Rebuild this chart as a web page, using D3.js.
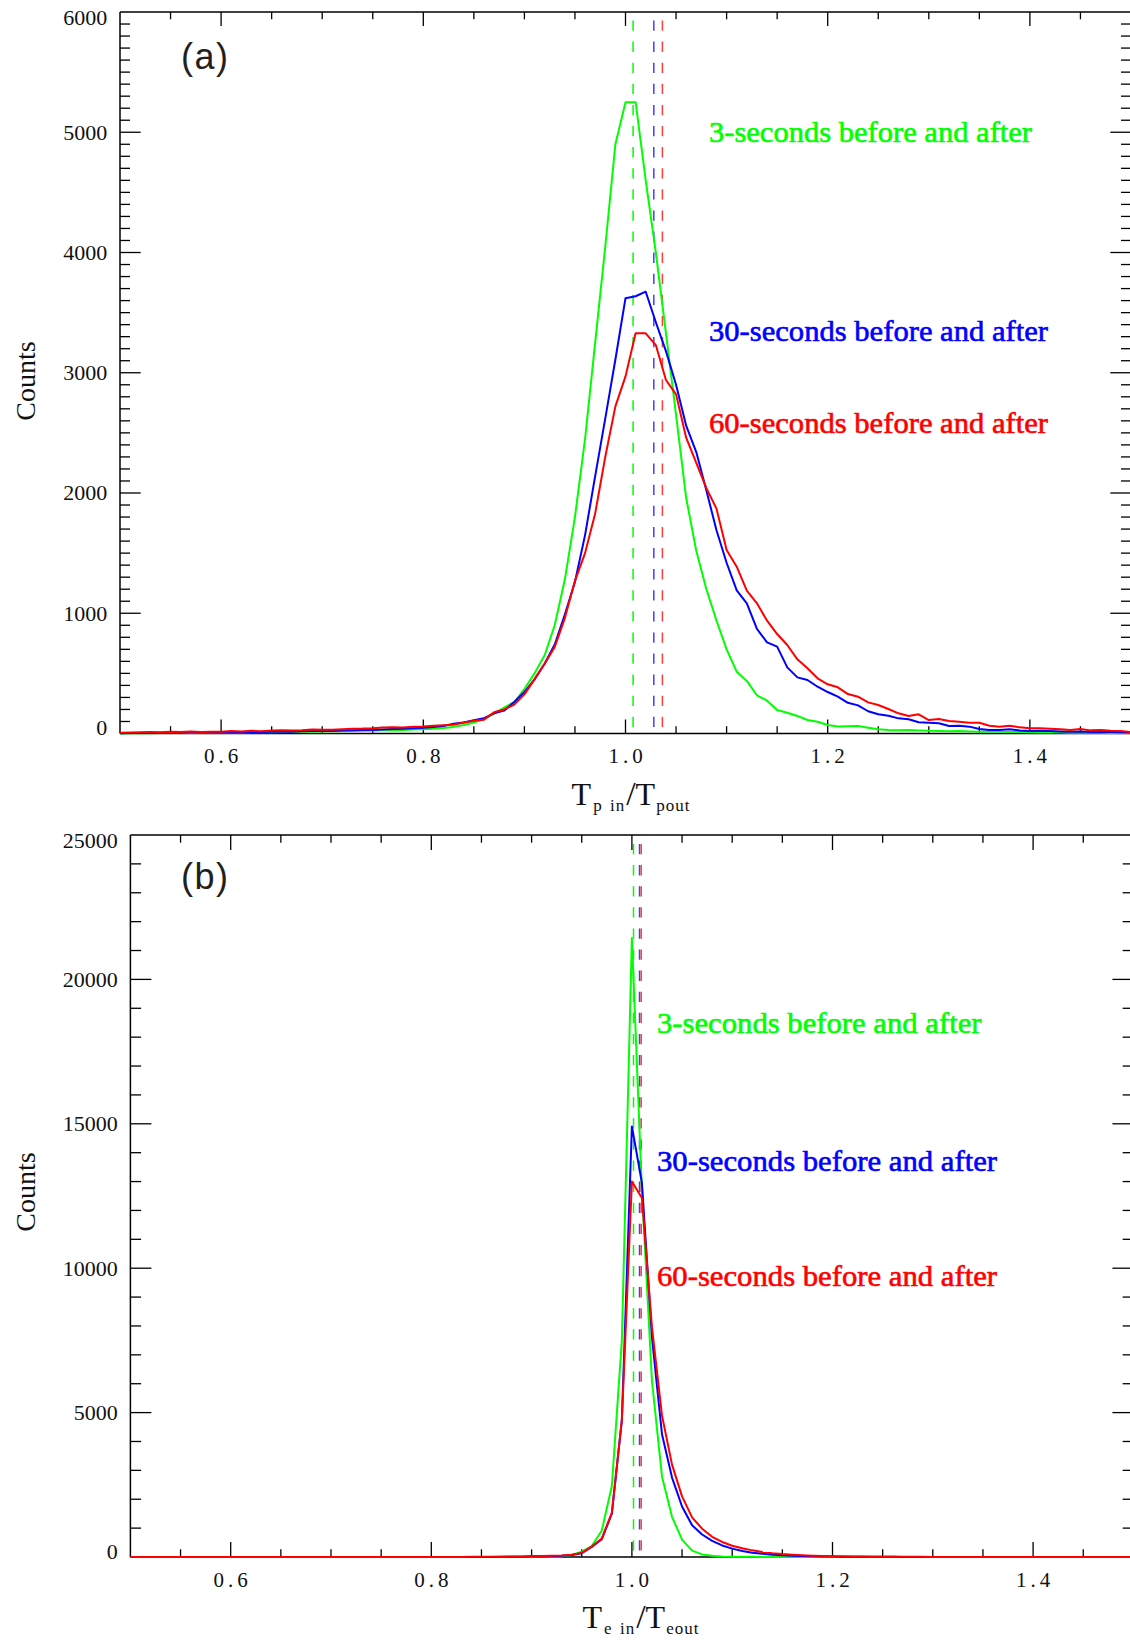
<!DOCTYPE html>
<html><head><meta charset="utf-8">
<script src="https://cdn.jsdelivr.net/npm/d3@7"></script>
<style>body{margin:0;background:#fff}svg{display:block}</style>
</head><body><svg id="c" width="1130" height="1640"></svg>
<script>
// ---- DATA ----
const bins = [0.50,0.51,0.52,0.53,0.54,0.55,0.56,0.57,0.58,0.59,0.60,0.61,0.62,0.63,0.64,0.65,0.66,0.67,0.68,0.69,
0.70,0.71,0.72,0.73,0.74,0.75,0.76,0.77,0.78,0.79,0.80,0.81,0.82,0.83,0.84,0.85,0.86,0.87,0.88,0.89,
0.90,0.91,0.92,0.93,0.94,0.95,0.96,0.97,0.98,0.99,1.00,1.01,1.02,1.03,1.04,1.05,1.06,1.07,1.08,1.09,
1.10,1.11,1.12,1.13,1.14,1.15,1.16,1.17,1.18,1.19,1.20,1.21,1.22,1.23,1.24,1.25,1.26,1.27,1.28,1.29,
1.30,1.31,1.32,1.33,1.34,1.35,1.36,1.37,1.38,1.39,1.40,1.41,1.42,1.43,1.44,1.45,1.46,1.47,1.48,1.49,1.50];

// panel (a): Tp_in / Tp_out
const tpGreen = [0,2,3,3,5,4,6,5,7,6,8,9,8,10,11,10,12,13,14,15,
17,18,19,21,22,24,26,28,30,33,36,40,46,55,70,92,120,165,215,262,
370,500,650,900,1280,1800,2450,3250,4050,4900,5250,5250,4600,4000,3330,2650,1960,1520,1200,940,
700,514,437,318,273,195,173,146,112,98,71,58,60,62,48,35,30,28,30,26,
22,20,18,20,17,15,16,14,12,13,10,9,10,8,7,8,6,6,5,5,4];
const tpBlue = [3,4,5,4,6,7,6,8,9,8,10,12,11,13,12,15,16,15,18,20,
22,21,25,28,30,29,34,38,40,44,48,55,62,82,92,110,128,168,190,262,
345,450,580,740,990,1260,1650,2140,2620,3110,3620,3636,3674,3420,3180,2900,2560,2340,2020,1690,
1420,1190,1083,870,758,722,550,467,445,389,345,306,255,234,185,160,148,126,118,93,
90,85,62,65,57,37,30,29,36,25,20,22,20,17,15,16,12,13,12,10,8];
const tpRed = [6,8,11,12,10,14,12,16,13,15,14,20,17,22,18,24,26,24,27,34,
31,32,36,40,41,44,49,52,50,57,59,65,68,72,92,106,115,176,200,240,
325,450,580,720,960,1270,1500,1830,2300,2720,2970,3328,3328,3230,2940,2820,2460,2250,2040,1870,
1526,1387,1188,1083,938,827,736,617,542,459,409,384,328,306,259,237,204,168,146,160,
112,121,104,98,90,90,65,57,65,51,43,43,40,35,29,37,26,29,23,20,12];

// panel (b): Te_in / Te_out
const teGreen = [0,0,0,0,0,0,0,0,0,0,0,0,0,0,0,0,0,0,0,0,
0,0,0,0,0,0,0,0,0,0,0,0,0,0,0,0,0,0,0,2,
3,5,10,25,70,184,380,920,2460,7500,21430,12700,6100,2790,1390,600,220,90,40,20,
12,8,5,4,3,2,2,1,1,1,1,1,0,0,0,0,0,0,0,0,
0,0,0,0,0,0,0,0,0,0,0,0,0,0,0,0,0,0,0,0,0];
const teBlue = [0,0,0,0,0,0,0,0,0,0,0,0,0,0,0,0,0,0,0,0,
0,0,0,0,0,0,0,0,0,0,0,1,1,2,2,3,4,6,8,11,
15,20,28,40,70,130,350,620,1500,4750,14910,12950,7600,4250,2750,1750,1100,780,560,400,
290,210,150,110,80,60,45,35,27,20,16,12,10,8,7,6,5,4,4,3,
3,3,2,2,2,2,2,1,1,1,1,1,1,1,1,0,0,0,0,0,0];
const teRed = [0,0,0,0,0,0,0,0,0,0,0,0,0,0,0,0,0,0,0,0,
0,0,0,0,0,0,0,1,1,1,2,2,3,4,5,6,8,10,14,18,
32,38,45,55,80,140,360,640,1530,4750,13005,12430,7950,4900,3200,2100,1370,980,700,520,
390,300,230,175,130,100,78,60,46,36,28,22,18,15,12,10,8,7,6,5,
4,4,3,3,3,2,2,2,2,2,1,1,1,1,1,1,1,1,1,1,1];

// dashed reference values (green, blue, red)
const refTp = [1.0075, 1.028, 1.0365];
const refTe = [1.0016, 1.0076, 1.0093];

const seriesNames = ["3-seconds before and after","30-seconds before and after","60-seconds before and after"];
const seriesColors = ["#00ff00","#0000ff","#ff0000"];
const xMajor = [0.6,0.8,1.0,1.2,1.4];
const xMajorLabels = ["0.6","0.8","1.0","1.2","1.4"];
const yTicksA = [0,1000,2000,3000,4000,5000,6000];
const yLabelsA = ["0","1000","2000","3000","4000","5000","6000"];
const yTicksB = [0,5000,10000,15000,20000,25000];
const yLabelsB = ["0","5000","10000","15000","20000","25000"];

// ---- DRAW ----
const svg = d3.select("#c");
const serif = "'Liberation Serif','Times New Roman',serif";

function panel(cfg){
  const g = svg.append("g");
  const x = d3.scaleLinear().domain([0.5,1.5]).range([cfg.x0,cfg.x1]);
  const y = d3.scaleLinear().domain(cfg.yDomain).range([cfg.y0,cfg.y1]);
  const [L,R,T,B] = [cfg.x0,cfg.x1,cfg.y1,cfg.y0];

  // dashed reference lines
  cfg.refs.forEach((r,i)=>{
    g.append("line").attr("x1",x(r)).attr("x2",x(r))
      .attr("y1",T+cfg.dashStart).attr("y2",B)
      .attr("stroke",seriesColors[i]).attr("stroke-width",1.5)
      .attr("stroke-dasharray","10.3,10.8").attr("opacity",i===0?1:0.75);
  });

  // axes frame
  const ax = g.append("g").attr("stroke","#000").attr("stroke-width",1.5);
  ax.append("line").attr("x1",L).attr("x2",L).attr("y1",T).attr("y2",B);
  ax.append("line").attr("x1",R).attr("x2",R).attr("y1",T).attr("y2",B);
  ax.append("line").attr("x1",L).attr("x2",R).attr("y1",T).attr("y2",T);
  ax.append("line").attr("x1",L).attr("x2",R).attr("y1",B).attr("y2",B);

  const tk = g.append("g").attr("stroke","#000").attr("stroke-width",1.3);
  // x ticks
  d3.range(0.55,1.499,0.05).forEach(v=>{
    const isMaj = xMajor.some(m=>Math.abs(m-v)<1e-6);
    const len = isMaj?cfg.xMaj:cfg.xMin;
    tk.append("line").attr("x1",x(v)).attr("x2",x(v)).attr("y1",T).attr("y2",T+len);
    tk.append("line").attr("x1",x(v)).attr("x2",x(v)).attr("y1",B).attr("y2",B-len);
  });
  // y ticks
  const yMax = cfg.yDomain[1];
  d3.range(cfg.yMinorStep, yMax-1e-6, cfg.yMinorStep).forEach(v=>{
    const isMaj = cfg.yTicks.includes(Math.round(v));
    const len = isMaj?cfg.yMaj:cfg.yMin;
    tk.append("line").attr("x1",L).attr("x2",L+len).attr("y1",y(v)).attr("y2",y(v));
    tk.append("line").attr("x1",R).attr("x2",R-len).attr("y1",y(v)).attr("y2",y(v));
  });

  // y tick labels
  cfg.yTicks.forEach((v,i)=>{
    let yy = y(v);
    if(i===0) yy -= 5.7;
    if(i===cfg.yTicks.length-1) yy += 6;
    g.append("text").attr("x",L-12.7).attr("y",yy).attr("dy","0.34em")
      .attr("text-anchor","end").attr("font-family",serif).attr("font-size",22)
      .attr("fill","#111").text(cfg.yLabels[i]);
  });
  // x tick labels
  xMajor.forEach((v,i)=>{
    g.append("text").attr("x",x(v)+2).attr("y",cfg.xLabBase)
      .attr("text-anchor","middle").attr("font-family",serif).attr("font-size",21)
      .attr("letter-spacing",4).attr("fill","#111").text(xMajorLabels[i]);
  });

  // curves
  const line = d3.line().x((d,i)=>x(bins[i])).y(d=>y(d));
  cfg.series.forEach((s,i)=>{
    g.append("path").datum(s).attr("d",line).attr("fill","none")
      .attr("stroke",seriesColors[i]).attr("stroke-width",2).attr("stroke-linejoin","round");
  });

  // legend texts
  cfg.legend.forEach((l,i)=>{
    g.append("text").attr("x",l[0]).attr("y",l[1])
      .attr("font-family",serif).attr("font-size",29)
      .attr("textLength",l[2]).attr("lengthAdjust","spacingAndGlyphs")
      .attr("fill",seriesColors[i]).attr("stroke",seriesColors[i]).attr("stroke-width",0.6)
      .text(seriesNames[i]);
  });

  // panel label
  g.append("text").attr("x",181).attr("y",cfg.labBase)
    .attr("font-family","'Liberation Sans',Arial,sans-serif").attr("font-size",36)
    .attr("letter-spacing",1.5).attr("fill","#231f20").text(cfg.label);

  // y title
  g.append("text").attr("transform",`translate(35,${cfg.yTitleC}) rotate(-90)`)
    .attr("text-anchor","middle").attr("font-family",serif).attr("font-size",28)
    .attr("fill","#111").text("Counts");

  // x title
  const xt = g.append("text").attr("x",cfg.xTitleC).attr("y",cfg.xTitleBase)
    .attr("text-anchor","middle").attr("font-family",serif).attr("fill","#111");
  xt.append("tspan").attr("font-size",32).text("T");
  xt.append("tspan").attr("font-size",17).attr("dy",6).attr("dx",2)
    .attr("letter-spacing",1).attr("word-spacing",2).text(cfg.sub1);
  xt.append("tspan").attr("font-size",34).attr("dy",-6).attr("dx",1).text("/");
  xt.append("tspan").attr("font-size",32).text("T");
  xt.append("tspan").attr("font-size",17).attr("dy",6).attr("dx",1)
    .attr("letter-spacing",1).text(cfg.sub2);
}

panel({x0:120,x1:1131,y0:733.5,y1:12,yDomain:[0,6000],yTicks:yTicksA,yLabels:yLabelsA,
  yMinorStep:100,yMaj:20.7,yMin:10,xMaj:14,xMin:7.3,xLabBase:763,
  refs:refTp,dashStart:8.5,series:[tpGreen,tpBlue,tpRed],
  legend:[[709,142,323],[709,340.5,339],[709,432.5,339]],
  label:"(a)",labBase:69,yTitleC:381,xTitleC:631,xTitleBase:805,sub1:"p in",sub2:"pout"});

panel({x0:130.4,x1:1133.4,y0:1557,y1:835,yDomain:[0,25000],yTicks:yTicksB,yLabels:yLabelsB,
  yMinorStep:1000,yMaj:21,yMin:10.7,xMaj:15,xMin:7.7,xLabBase:1586.5,
  refs:refTe,dashStart:9,series:[teGreen,teBlue,teRed],
  legend:[[657,1033,324.5],[657,1171,340],[657,1286,340]],
  label:"(b)",labBase:889,yTitleC:1192,xTitleC:641,xTitleBase:1628,sub1:"e in",sub2:"eout"});
</script></body></html>
